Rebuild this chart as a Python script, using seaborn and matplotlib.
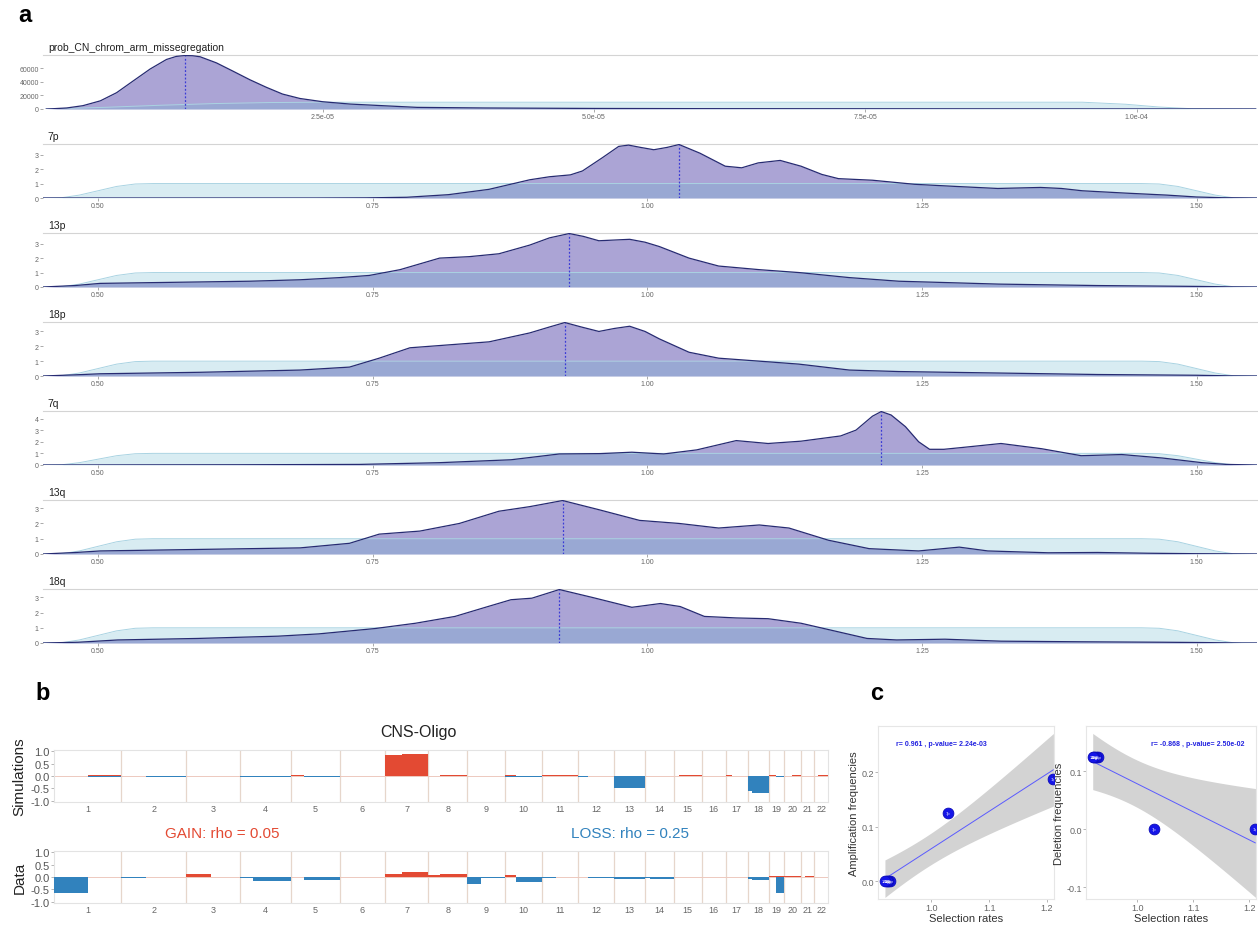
import numpy as np
import matplotlib
matplotlib.use('Agg')
import matplotlib.pyplot as plt
import seaborn as sns

# ---------------- panel a : posterior (purple) vs prior (light blue) ----------------
# prob_CN_chrom_arm_missegregation, x in units of 1e-5
cn_x = [-0.05, 0.0, 0.14, 0.29, 0.45, 0.6, 0.75, 0.91, 1.06, 1.15, 1.23, 1.30, 1.37, 1.52, 1.67,
        1.83, 1.98, 2.13, 2.29, 2.5, 2.75, 3.05, 3.37, 4.0, 5.0, 6.0, 7.0, 8.0, 9.0, 10.0, 11.1]
cn_y = [0, 300, 1500, 4900, 12000, 24000, 41000, 59000, 73000, 77500, 78800, 78500, 77000, 68000, 56000,
        43000, 32000, 22000, 15500, 10700, 7300, 4900, 2400, 1500, 800, 500, 400, 300, 200, 100, 0]
cn_prior_x = [-0.05, 0.0, 0.5, 1.0, 1.5, 2.0, 2.5, 9.5, 9.9, 10.2, 10.5, 11.1]
cn_prior_y = [0, 300, 2500, 5500, 8000, 9500, 10000, 10000, 7000, 3000, 500, 0]

# selection-rate rows share one uniform prior
prior_x = [0.45, 0.467, 0.483, 0.50, 0.517, 0.534, 0.55, 1.45, 1.466, 1.483, 1.50, 1.517, 1.533, 1.555]
prior_y = [0, 0.02, 0.2, 0.5, 0.8, 0.97, 1.0, 1.0, 0.97, 0.8, 0.5, 0.2, 0.02, 0]

p7_x = [0.45, 0.70, 0.744, 0.781, 0.819, 0.856, 0.893, 0.911, 0.93, 0.941, 0.959, 0.974, 0.983, 0.994,
        1.006, 1.018, 1.029, 1.048, 1.071, 1.086, 1.101, 1.121, 1.14, 1.159, 1.174, 1.205, 1.243, 1.281,
        1.319, 1.358, 1.377, 1.396, 1.435, 1.473, 1.5, 1.523, 1.555]
p7_y = [0, 0.0, 0.01, 0.05, 0.23, 0.6, 1.26, 1.47, 1.6, 1.87, 2.78, 3.57, 3.66, 3.5,
        3.34, 3.5, 3.7, 3.1, 2.2, 2.09, 2.43, 2.6, 2.2, 1.63, 1.34, 1.23, 0.95, 0.8,
        0.66, 0.73, 0.66, 0.5, 0.34, 0.2, 0.07, 0.02, 0]

p13_x = [0.45, 0.479, 0.502, 0.547, 0.593, 0.638, 0.684, 0.72, 0.747, 0.775, 0.811, 0.838, 0.865, 0.893,
         0.911, 0.929, 0.942, 0.956, 0.97, 0.984, 0.998, 1.011, 1.038, 1.065, 1.102, 1.138, 1.184, 1.229,
         1.275, 1.32, 1.365, 1.41, 1.456, 1.502, 1.53, 1.555]
p13_y = [0, 0.1, 0.25, 0.3, 0.35, 0.4, 0.5, 0.65, 0.8, 1.2, 2.0, 2.1, 2.3, 2.9,
         3.4, 3.7, 3.5, 3.2, 3.25, 3.3, 3.1, 2.8, 2.0, 1.45, 1.2, 1.0, 0.65, 0.4,
         0.3, 0.2, 0.15, 0.1, 0.07, 0.04, 0.01, 0]

p18_x = [0.45, 0.48, 0.502, 0.593, 0.684, 0.729, 0.756, 0.784, 0.82, 0.856, 0.893, 0.911, 0.925, 0.94,
         0.956, 0.97, 0.984, 0.998, 1.011, 1.038, 1.065, 1.102, 1.138, 1.184, 1.229, 1.32, 1.41, 1.5,
         1.53, 1.555]
p18_y = [0, 0.08, 0.15, 0.25, 0.4, 0.6, 1.2, 1.9, 2.1, 2.3, 2.9, 3.3, 3.6, 3.3,
         3.0, 3.2, 3.35, 3.0, 2.5, 1.6, 1.2, 1.0, 0.8, 0.4, 0.3, 0.2, 0.1, 0.05,
         0.01, 0]

q7_x = [0.45, 0.628, 0.738, 0.811, 0.876, 0.92, 0.957, 0.986, 1.015, 1.045, 1.081, 1.11, 1.14, 1.176,
        1.19, 1.205, 1.213, 1.222, 1.235, 1.247, 1.257, 1.27, 1.286, 1.322, 1.359, 1.395, 1.432, 1.469,
        1.505, 1.527, 1.555]
q7_y = [0, 0.02, 0.05, 0.2, 0.45, 0.95, 0.98, 1.1, 0.95, 1.3, 2.1, 1.85, 2.05, 2.5,
        3.0, 4.2, 4.6, 4.3, 3.3, 2.0, 1.35, 1.35, 1.5, 1.85, 1.4, 0.8, 0.9, 0.6,
        0.2, 0.05, 0]

q13_x = [0.45, 0.48, 0.502, 0.593, 0.684, 0.729, 0.756, 0.793, 0.829, 0.865, 0.893, 0.923, 0.956, 0.993,
         1.029, 1.065, 1.102, 1.129, 1.165, 1.202, 1.247, 1.284, 1.31, 1.365, 1.41, 1.456, 1.5, 1.53, 1.555]
q13_y = [0, 0.1, 0.2, 0.3, 0.4, 0.7, 1.3, 1.5, 2.0, 2.8, 3.1, 3.5, 2.9, 2.2,
         2.0, 1.7, 1.9, 1.7, 0.9, 0.35, 0.2, 0.45, 0.2, 0.08, 0.1, 0.05, 0.02, 0.01, 0]

q18_x = [0.45, 0.482, 0.518, 0.591, 0.664, 0.701, 0.752, 0.789, 0.825, 0.855, 0.876, 0.895, 0.92, 0.95,
         0.986, 1.012, 1.03, 1.052, 1.081, 1.11, 1.14, 1.17, 1.2, 1.227, 1.271, 1.322, 1.395, 1.469,
         1.505, 1.541, 1.555]
q18_y = [0, 0.05, 0.2, 0.3, 0.45, 0.6, 0.95, 1.3, 1.75, 2.4, 2.85, 2.95, 3.52, 3.0,
         2.35, 2.6, 2.4, 1.75, 1.65, 1.6, 1.3, 0.8, 0.3, 0.2, 0.25, 0.12, 0.08, 0.05,
         0.03, 0, 0]

sel_ticks = [0.50, 0.75, 1.00, 1.25, 1.50]
sel_labels = ['0.50', '0.75', '1.00', '1.25', '1.50']
cn_ticks = [2.5, 5.0, 7.5, 10.0]
cn_labels = ['2.5e-05', '5.0e-05', '7.5e-05', '1.0e-04']

# ---------------- panel b : arm-level CN changes ----------------
chroms = [str(i) for i in range(1, 23)]
chrom_len = [249, 243, 198, 191, 181, 171, 159, 146, 141, 136, 135, 134, 115, 107, 103, 90, 81, 78, 59, 63, 48, 51]
centromere = [125, 93, 91, 50, 48, 60, 60, 45, 49, 40, 54, 36, 18, 18, 19, 37, 24, 17, 27, 28, 13, 15]

sim_gain_p = [0.02, 0.02, 0, 0, 0.03, 0.02, 0.85, 0, 0, 0.05, 0.05, 0, 0, 0, 0, 0.02, 0.03, 0, 0.05, 0.02, 0, 0]
sim_gain_q = [0.05, 0, 0, 0, 0.02, 0.02, 0.90, 0.03, 0, 0, 0.03, 0.02, 0, 0.02, 0.04, 0.02, 0.02, 0, 0, 0.03, 0, 0.05]
sim_loss_p = [0, 0, -0.01, -0.03, 0, 0, 0, -0.02, 0, -0.03, 0, -0.05, -0.5, 0, 0, 0, 0, -0.6, 0, 0, 0, 0]
sim_loss_q = [-0.03, -0.03, -0.02, -0.06, -0.03, -0.01, 0, 0, 0, -0.05, 0, 0, -0.5, -0.01, 0, -0.01, -0.01, -0.67, -0.03, 0, 0, 0]

data_gain_p = [0, 0, 0.13, 0, 0, 0, 0.12, 0.07, 0, 0.10, 0, 0, 0, 0, 0, 0, 0, 0, 0.05, 0.05, 0, 0]
data_gain_q = [0, 0, 0, 0, 0, 0, 0.20, 0.13, 0, 0, 0, 0, 0, 0, 0, 0, 0, 0, 0.05, 0.05, 0.05, 0]
data_loss_p = [-0.63, -0.05, 0, -0.05, 0, 0, 0, 0, -0.27, 0, -0.05, 0, -0.1, -0.05, 0, 0, 0, -0.1, 0, 0, 0, 0]
data_loss_q = [0, 0, 0, -0.18, -0.12, 0, 0, 0, -0.04, -0.2, 0, -0.05, -0.1, -0.1, 0, 0, 0, -0.12, -0.65, 0, 0, 0]

# ---------------- panel c : selection rate vs frequency ----------------
arms = ['13p', '18p', '13q', '18q', '7p', '7q']
sel_rate = [0.929, 0.925, 0.923, 0.920, 1.029, 1.211]
amp_freq = [0, 0, 0, 0, 0.125, 0.188]
del_freq = [0.125, 0.125, 0.125, 0.125, 0, 0]

# -------------------------------------------------------------------------
sns.set_theme(style='white')
plt.rcParams['font.family'] = ['Liberation Sans', 'DejaVu Sans']

W, H = 1258, 928
fig = plt.figure(figsize=(W / 100, H / 100), dpi=100)


def rect(x0, y0, x1, y1):
    # pixel box (top-left origin) -> figure fraction
    return [x0 / W, 1 - y1 / H, (x1 - x0) / W, (y1 - y0) / H]


POST_FILL = '#aba4d5'
POST_EDGE = '#272b72'
PRIOR_FILL = '#67b7cf'
PRIOR_EDGE = '#a9d3e2'
RED = '#e34a33'
BLUE = '#3182bd'


def ridge(ax, x, y, qx, qy, title, xlim, xticks, xlabels, yticks):
    x = np.asarray(x, float)
    y = np.asarray(y, float)
    ax.fill_between(x, y, color=POST_FILL, lw=0, zorder=1)
    ax.fill_between(qx, qy, color=PRIOR_FILL, alpha=0.25, lw=0, zorder=2)
    sns.lineplot(x=qx, y=qy, ax=ax, color=PRIOR_EDGE, lw=0.7, sort=False, estimator=None, zorder=3)
    sns.lineplot(x=x, y=y, ax=ax, color=POST_EDGE, lw=0.9, sort=False, estimator=None, zorder=4)
    i = int(np.argmax(y))
    ax.plot([x[i], x[i]], [0, y[i]], ls=(0, (1.5, 1.5)), color='#3b3bd6', lw=0.9, zorder=5)
    ax.set_xlim(*xlim)
    ax.set_ylim(0, y.max() * 1.01)
    ax.set_xticks(xticks)
    ax.set_xticklabels(xlabels)
    ax.set_yticks(yticks)
    ax.set_yticklabels([str(v) for v in yticks])
    for s in ['left', 'right', 'bottom']:
        ax.spines[s].set_visible(False)
    ax.spines['top'].set_color('#d4d4d4')
    ax.spines['top'].set_linewidth(0.8)
    ax.tick_params(bottom=True, left=True, length=2, width=0.5, color='#888888',
                   labelsize=5, labelcolor='#666666', pad=1)
    ax.set_xlabel('')
    ax.set_ylabel('')
    ax.text(0.004, 1.05, title, transform=ax.transAxes, fontsize=7.5, color='#222222',
            ha='left', va='bottom')


rows = [
    ('prob_CN_chrom_arm_missegregation', cn_x, cn_y, cn_prior_x, cn_prior_y, (-0.078, 11.11),
     cn_ticks, cn_labels, [0, 20000, 40000, 60000]),
    ('7p', p7_x, p7_y, prior_x, prior_y, (0.45, 1.555), sel_ticks, sel_labels, [0, 1, 2, 3]),
    ('13p', p13_x, p13_y, prior_x, prior_y, (0.45, 1.555), sel_ticks, sel_labels, [0, 1, 2, 3]),
    ('18p', p18_x, p18_y, prior_x, prior_y, (0.45, 1.555), sel_ticks, sel_labels, [0, 1, 2, 3]),
    ('7q', q7_x, q7_y, prior_x, prior_y, (0.45, 1.555), sel_ticks, sel_labels, [0, 1, 2, 3, 4]),
    ('13q', q13_x, q13_y, prior_x, prior_y, (0.45, 1.555), sel_ticks, sel_labels, [0, 1, 2, 3]),
    ('18q', q18_x, q18_y, prior_x, prior_y, (0.45, 1.555), sel_ticks, sel_labels, [0, 1, 2, 3]),
]
for k, r in enumerate(rows):
    ax = fig.add_axes(rect(43, 56 + 89 * k, 1257, 110 + 89 * k))
    ridge(ax, r[1], r[2], r[3], r[4], r[0], r[5], r[6], r[7], r[8])

# ---------------- panel b ----------------
lens = np.array(chrom_len, float)
cen = np.array(centromere, float)
starts = np.concatenate([[0], np.cumsum(lens)[:-1]])
total = lens.sum()
centers = starts + lens / 2


def cn_bars(ax, gp, gq, lp, lq, ylabel):
    for vals, left, width, col in [(gp, starts, cen, RED), (gq, starts + cen, lens - cen, RED),
                                   (lp, starts, cen, BLUE), (lq, starts + cen, lens - cen, BLUE)]:
        ax.bar(left, vals, width=width, align='edge', color=col, lw=0, zorder=3)
    for b in starts[1:]:
        ax.axvline(b, color='#e6d6cb', lw=0.9, zorder=1)
    ax.axhline(0, color='#edc9be', lw=0.7, zorder=2)
    ax.set_xlim(0, total)
    ax.set_ylim(-1.05, 1.05)
    ax.set_yticks([1, 0.5, 0, -0.5, -1])
    ax.set_yticklabels(['1.0', '0.5', '0.0', '-0.5', '-1.0'])
    ax.set_xticks(centers)
    ax.set_xticklabels(chroms)
    for s in ax.spines.values():
        s.set_color('#e3e3e3')
        s.set_linewidth(0.8)
    ax.tick_params(axis='y', left=True, length=2, width=0.5, color='#999999',
                   labelsize=8, labelcolor='#555555', pad=1)
    ax.tick_params(axis='x', bottom=False, length=0, labelsize=6.5, labelcolor='#666666', pad=1.5)
    ax.set_ylabel(ylabel, fontsize=11, color='#222222', labelpad=3)


ax_sim = fig.add_axes(rect(54, 751, 828, 803))
cn_bars(ax_sim, sim_gain_p, sim_gain_q, sim_loss_p, sim_loss_q, 'Simulations')
ax_dat = fig.add_axes(rect(54, 852, 828, 904))
cn_bars(ax_dat, data_gain_p, data_gain_q, data_loss_p, data_loss_q, 'Data')

fig.text(418 / W, 1 - 732 / H, 'CNS-Oligo', fontsize=11.5, color='#222222', ha='center', va='center')
fig.text(222 / W, 1 - 834 / H, 'GAIN: rho = 0.05', fontsize=11, color=RED, ha='center', va='center')
fig.text(630 / W, 1 - 834 / H, 'LOSS: rho = 0.25', fontsize=11, color=BLUE, ha='center', va='center')

# ---------------- panel c ----------------
T975_DF4 = 2.776


def corr_panel(ax, yvals, ylabel, note, note_x, ylim, yticks):
    xs = np.array(sel_rate, float)
    ys = np.array(yvals, float)
    slope, icept = np.polyfit(xs, ys, 1)
    grid = np.linspace(xs.min(), xs.max(), 80)
    fit = icept + slope * grid
    resid = ys - (icept + slope * xs)
    s = np.sqrt((resid ** 2).sum() / (len(xs) - 2))
    se = s * np.sqrt(1 / len(xs) + (grid - xs.mean()) ** 2 / ((xs - xs.mean()) ** 2).sum())
    ax.fill_between(grid, fit - T975_DF4 * se, fit + T975_DF4 * se, color='#d3d3d3', lw=0, zorder=1)
    sns.regplot(x=xs, y=ys, ax=ax, scatter=False, ci=None, truncate=True,
                line_kws=dict(color='#5a5aff', lw=0.7, zorder=2))
    sns.scatterplot(x=xs, y=ys, ax=ax, s=60, color='#1515e8', edgecolor='#0a0ab8',
                    linewidth=0.6, zorder=3)
    for a, xv, yv in zip(arms, xs, ys):
        ax.text(xv, yv, a, fontsize=3, color='white', ha='center', va='center', zorder=4, clip_on=True)
    ax.set_xlim(0.908, 1.212)
    ax.set_ylim(*ylim)
    ax.set_xticks([1.0, 1.1, 1.2])
    ax.set_xticklabels(['1.0', '1.1', '1.2'])
    ax.set_yticks(yticks)
    ax.set_yticklabels([f'{v:.1f}' for v in yticks])
    for sp in ax.spines.values():
        sp.set_color('#e6e6e6')
        sp.set_linewidth(0.8)
    ax.tick_params(bottom=True, left=True, length=2, width=0.5, color='#999999',
                   labelsize=6.5, labelcolor='#666666', pad=1)
    ax.set_xlabel('Selection rates', fontsize=8, color='#333333', labelpad=0.5)
    ax.set_ylabel(ylabel, fontsize=8, color='#333333', labelpad=1.5)
    ax.text(note_x, 0.9, note, transform=ax.transAxes, fontsize=5, fontweight='bold',
            color='#2222e0', ha='center', va='center')


ax_c1 = fig.add_axes(rect(878, 727, 1054, 900))
corr_panel(ax_c1, amp_freq, 'Amplification frequencies', 'r= 0.961 , p-value= 2.24e-03', 0.36,
           (-0.033, 0.285), [0.0, 0.1, 0.2])
ax_c2 = fig.add_axes(rect(1086, 727, 1256, 900))
corr_panel(ax_c2, del_freq, 'Deletion frequencies', 'r= -0.868 , p-value= 2.50e-02', 0.66,
           (-0.12, 0.178), [-0.1, 0.0, 0.1])

# panel letters
for lab, px, py in [('a', 18, 16), ('b', 35, 693), ('c', 870, 693)]:
    fig.text(px / W, 1 - py / H, lab, fontsize=17, fontweight='bold', color='black',
             ha='left', va='center', family=['Liberation Sans', 'DejaVu Sans'])

fig.savefig('out.png', dpi=100)
